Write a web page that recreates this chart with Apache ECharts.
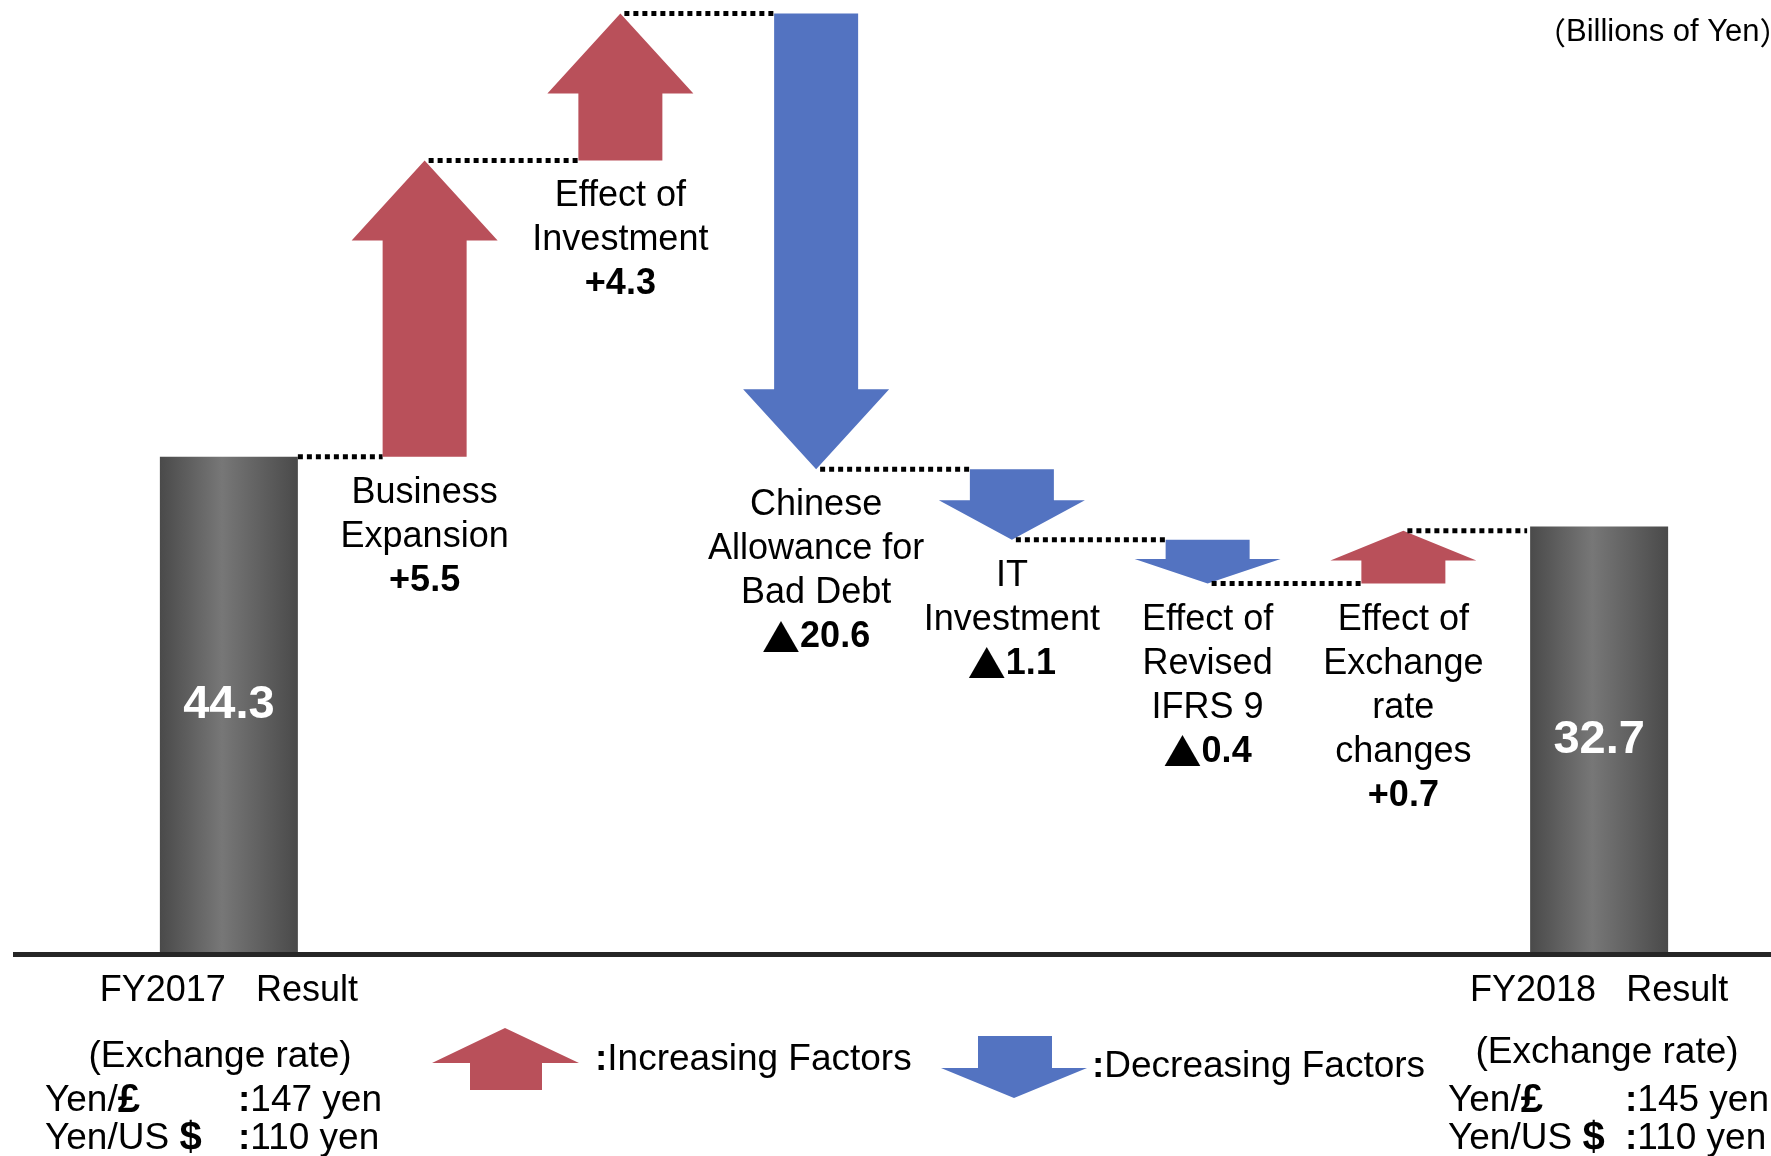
<!DOCTYPE html>
<html>
<head>
<meta charset="utf-8">
<title>Profit variance FY2017 - FY2018</title>
<script src="https://cdn.jsdelivr.net/npm/echarts@6/dist/echarts.min.js"></script>
<style>
  html, body { margin: 0; padding: 0; background: #fff; }
  #chart { width: 1771px; height: 1156px; }
</style>
</head>
<body>
<div id="chart"></div>
<script>
// first and last are the result bars, the rest are the factors
const categories = [
  "FY2017　Result",
  "Business\nExpansion",
  "Effect of\nInvestment",
  "Chinese\nAllowance for\nBad Debt",
  "IT\nInvestment",
  "Effect of\nRevised\nIFRS 9",
  "Effect of\nExchange\nrate\nchanges",
  "FY2018　Result"
];
// printed amounts (billions of yen)
const amounts = [44.3, 5.5, 4.3, -20.6, -1.1, -0.4, 0.7, 32.7];
// slide is not to scale: level reached after each step, as drawn
const drawnLevels = [44.3, 70.7, 83.8, 43.2, 36.9, 33.0, 37.7, 38.1];

const rateNames = ["Yen/{s|£}", "Yen/US {s|$}"];
const rates2017 = [147, 110];
const rates2018 = [145, 110];

const FONT = '"Liberation Sans", Arial, sans-serif';
const CJK = '"Noto Sans CJK JP", sans-serif';
const RED = "#b9505a";
const BLUE = "#5373c1";
const BAR_W = 138;
const SHAFT_W = 84;
const HEAD_W = 146;
const last = categories.length - 1;

function fmt(v) {
  return (v >= 0 ? "+" : "{t|▲}") + Math.abs(v).toFixed(1);
}

let barData = categories.map((c, i) => (i === 0 || i === last ? drawnLevels[i] : "-"));
let stepData = [];
for (let i = 1; i <= last; i++) {
  stepData.push([i, drawnLevels[i - 1], drawnLevels[i]]);
}

function renderStep(params, api) {
  let i = api.value(0);
  let from = api.value(1);
  let to = api.value(2);
  let p0 = api.coord([i, from]);
  let p1 = api.coord([i, to]);
  let prev = api.coord([i - 1, from]);
  let cx = p0[0];
  let children = [];

  // dotted connector from the previous mark
  let x1 = prev[0] + (i - 1 === 0 ? BAR_W / 2 : 4);
  let x2 = cx - (i === last ? BAR_W / 2 + 3 : SHAFT_W / 2);
  children.push({
    type: "line",
    shape: { x1: x1, y1: p0[1], x2: x2, y2: p0[1] },
    style: { stroke: "#000", lineWidth: 5, lineDash: [5, 4] }
  });
  if (i === last) return { type: "group", children: children };

  let up = to > from;
  let len = Math.abs(p1[1] - p0[1]);
  let hl = Math.min(80, len * 0.56);
  let sw = SHAFT_W / 2, hw = HEAD_W / 2;
  let y0 = p0[1], y1 = p1[1];
  let hb = up ? y1 + hl : y1 - hl;
  children.push({
    type: "polygon",
    shape: {
      points: [
        [cx - sw, y0], [cx - sw, hb], [cx - hw, hb], [cx, y1],
        [cx + hw, hb], [cx + sw, hb], [cx + sw, y0]
      ]
    },
    style: { fill: up ? RED : BLUE }
  });

  let lower = Math.max(y0, y1);
  let name = categories[i];
  let n = name.split("\n").length;
  children.push({
    type: "text",
    x: cx,
    y: lower + 14,
    style: {
      text: name, fill: "#000", fontSize: 36, fontFamily: FONT,
      align: "center", textAlign: "center", verticalAlign: "top", textVerticalAlign: "top",
      lineHeight: 44
    }
  });
  children.push({
    type: "text",
    x: cx,
    y: lower + 14 + n * 44,
    style: {
      text: fmt(amounts[i]), fill: "#000", fontSize: 36, fontWeight: "bold", fontFamily: FONT,
      align: "center", textAlign: "center", verticalAlign: "top", textVerticalAlign: "top",
      lineHeight: 44,
      rich: {
        t: { fontFamily: CJK, fontSize: 38, fill: "#000", lineHeight: 44 }
      }
    }
  });
  return { type: "group", children: children };
}

function txt(x, y, text, size, align) {
  return {
    type: "text",
    x: x,
    y: y,
    style: {
      text: text, fill: "#000", fontSize: size, fontFamily: FONT,
      align: align, textAlign: align, verticalAlign: "middle", textVerticalAlign: "middle",
      rich: {
        c: { fontSize: size, fontFamily: FONT, fontWeight: "bold", fill: "#000" },
        s: { fontSize: size + 3, fontFamily: FONT, fontWeight: "bold", fill: "#000" },
        p: { fontSize: size, fontFamily: CJK, fill: "#000" }
      }
    }
  };
}

let graphics = [
  // baseline
  { type: "rect", shape: { x: 13, y: 952, width: 1758, height: 5 }, style: { fill: "#262626" }, z: 10 },
  txt(1535, 32, "{p|（}Billions of Yen{p|）}", 31, "left"),
  // legend
  {
    type: "polygon",
    shape: { points: [[470, 1090], [470, 1063], [432, 1063], [505, 1028], [579, 1063], [542, 1063], [542, 1090]] },
    style: { fill: RED }
  },
  txt(595, 1060, "{c|:}Increasing Factors", 37, "left"),
  {
    type: "polygon",
    shape: { points: [[978, 1036], [978, 1068], [941, 1068], [1014, 1098], [1087, 1068], [1052, 1068], [1052, 1036]] },
    style: { fill: BLUE }
  },
  txt(1092, 1067, "{c|:}Decreasing Factors", 37, "left"),
  // exchange rates
  txt(220, 1057, "(Exchange rate)", 37, "center"),
  txt(1607, 1053, "(Exchange rate)", 37, "center")
];
rateNames.forEach((r, k) => {
  let y = 1101 + k * 38;
  graphics.push(txt(45, y, r, 37, "left"));
  graphics.push(txt(238, y, "{c|:}" + rates2017[k] + " yen", 37, "left"));
  graphics.push(txt(1448, y, r, 37, "left"));
  graphics.push(txt(1625, y, "{c|:}" + rates2018[k] + " yen", 37, "left"));
});

let chart = echarts.init(document.getElementById("chart"));
let option = {
  animation: false,
  backgroundColor: "#fff",
  grid: { left: 131, right: 74, top: 0, bottom: 202 },
  xAxis: {
    type: "category",
    data: categories,
    axisLine: { show: false },
    axisTick: { show: false },
    axisLabel: {
      interval: 0,
      margin: 19,
      color: "#000",
      fontSize: 36,
      fontFamily: FONT,
      lineHeight: 36,
      formatter: (v, i) => (i === 0 || i === last ? v.replace("　", "   ") : "")
    }
  },
  yAxis: {
    type: "value",
    min: 0,
    max: 85,
    show: false
  },
  series: [
    {
      type: "bar",
      data: barData,
      barWidth: BAR_W,
      itemStyle: {
        color: new echarts.graphic.LinearGradient(0, 0, 1, 0, [
          { offset: 0, color: "#4a4a4a" },
          { offset: 0.45, color: "#777777" },
          { offset: 1, color: "#4a4a4a" }
        ])
      },
      label: {
        show: true,
        position: "inside",
        color: "#fff",
        fontSize: 47,
        fontWeight: "bold",
        fontFamily: FONT,
        formatter: p => amounts[p.dataIndex].toFixed(1)
      }
    },
    {
      type: "custom",
      data: stepData,
      renderItem: renderStep,
      silent: true
    }
  ],
  graphic: graphics
};
chart.setOption(option);
</script>
</body>
</html>
